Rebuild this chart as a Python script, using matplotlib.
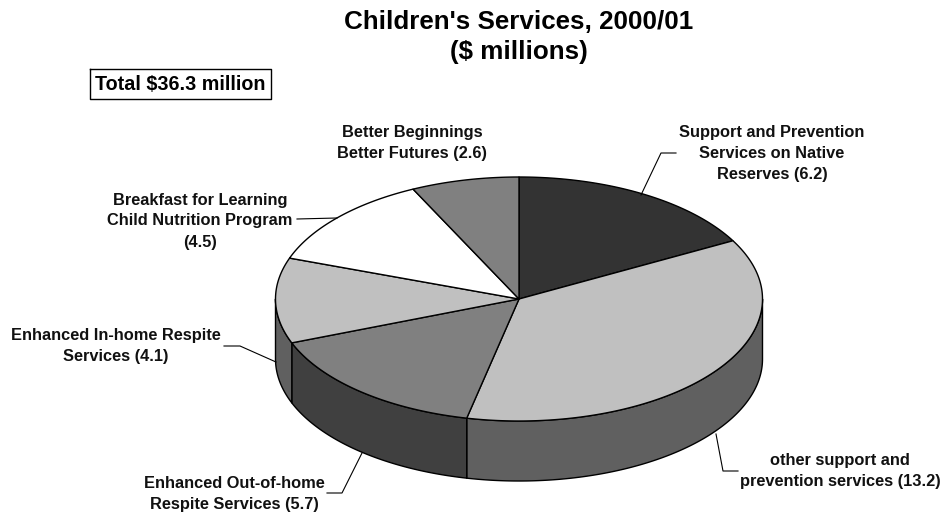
import numpy as np
import matplotlib
matplotlib.use("Agg")
import matplotlib.pyplot as plt

plt.rcParams['font.family'] = ['Liberation Sans', 'DejaVu Sans']

# Spending by program, clockwise from twelve o'clock
programs = ["Support and Prevention\nServices on Native\nReserves (6.2)",
            "other support and\nprevention services (13.2)",
            "Enhanced Out-of-home\nRespite Services (5.7)",
            "Enhanced In-home Respite\nServices (4.1)",
            "Breakfast for Learning\nChild Nutrition Program\n(4.5)",
            "Better Beginnings\nBetter Futures (2.6)"]
amounts = [6.2, 13.2, 5.7, 4.1, 4.5, 2.6]
top_colors = ["#333333", "#C0C0C0", "#808080", "#C0C0C0", "#FFFFFF", "#808080"]
side_colors = ["#262626", "#606060", "#404040", "#606060", "#808080", "#606060"]

# Ellipse geometry of the tilted disc, in figure pixels
CX, CY, RX, RY, DEPTH = 519, 299, 243.5, 122, 60

label_centres = [(772, 154), (840, 471), (234, 494), (116, 346), (200, 221), (412, 143)]
leaders = [[(641, 195), (661, 153), (676, 153)],
           [(716, 434), (723, 471), (738, 471)],
           [(362, 453), (342, 493), (327, 493)],
           [(276, 362), (240, 346), (224, 346)],
           [(337, 218), (297, 219)]]

fig = plt.figure(figsize=(9.43, 5.14), dpi=100)
ax = fig.add_axes([0, 0, 1, 1])
ax.set_xlim(0, 943)
ax.set_ylim(514, 0)
ax.axis("off")


def rim(a, b, dy=0):
    t = np.radians(np.linspace(a, b, max(2, int(abs(b - a) * 2) + 1)))
    return CX + RX * np.sin(t), CY - RY * np.cos(t) + dy


edges = np.concatenate([[0], np.cumsum(amounts)]) / sum(amounts) * 360

# Outer wall: only the front half of the disc (90 to 270 degrees) is visible
for a, b, col in zip(edges[:-1], edges[1:], side_colors):
    lo, hi = max(a, 90), min(b, 270)
    if lo >= hi:
        continue
    xt, yt = rim(lo, hi)
    xb, yb = rim(hi, lo, DEPTH)
    ax.fill(np.r_[xt, xb], np.r_[yt, yb], facecolor=col, edgecolor="black",
            linewidth=1.0, joinstyle="round", zorder=2)

# Top face wedges
for a, b, col in zip(edges[:-1], edges[1:], top_colors):
    x, y = rim(a, b)
    ax.fill(np.r_[CX, x], np.r_[CY, y], facecolor=col, edgecolor="black",
            linewidth=1.0, joinstyle="round", zorder=3)

# Leader lines
for pts in leaders:
    xs, ys = zip(*pts)
    ax.plot(xs, ys, color="black", linewidth=0.8, zorder=4)

# Slice labels
for text, (x, y) in zip(programs, label_centres):
    ax.text(x, y, text, ha="center", va="center", fontsize=11.8,
            fontweight="bold", linespacing=1.5, color="#111111", zorder=5)

ax.text(519, 37, "Children's Services, 2000/01\n($ millions)", ha="center", va="center",
        fontsize=18.7, fontweight="bold", linespacing=1.34, color="black")

ax.text(180.5, 84.5, "Total $36.3 million", ha="center", va="center", fontsize=14.2,
        fontweight="bold", color="black")
ax.plot([90, 271, 271, 90, 90], [69, 69, 99, 99, 69], color="black", linewidth=1.0)

fig.savefig("out.png", dpi=100, facecolor="white")
